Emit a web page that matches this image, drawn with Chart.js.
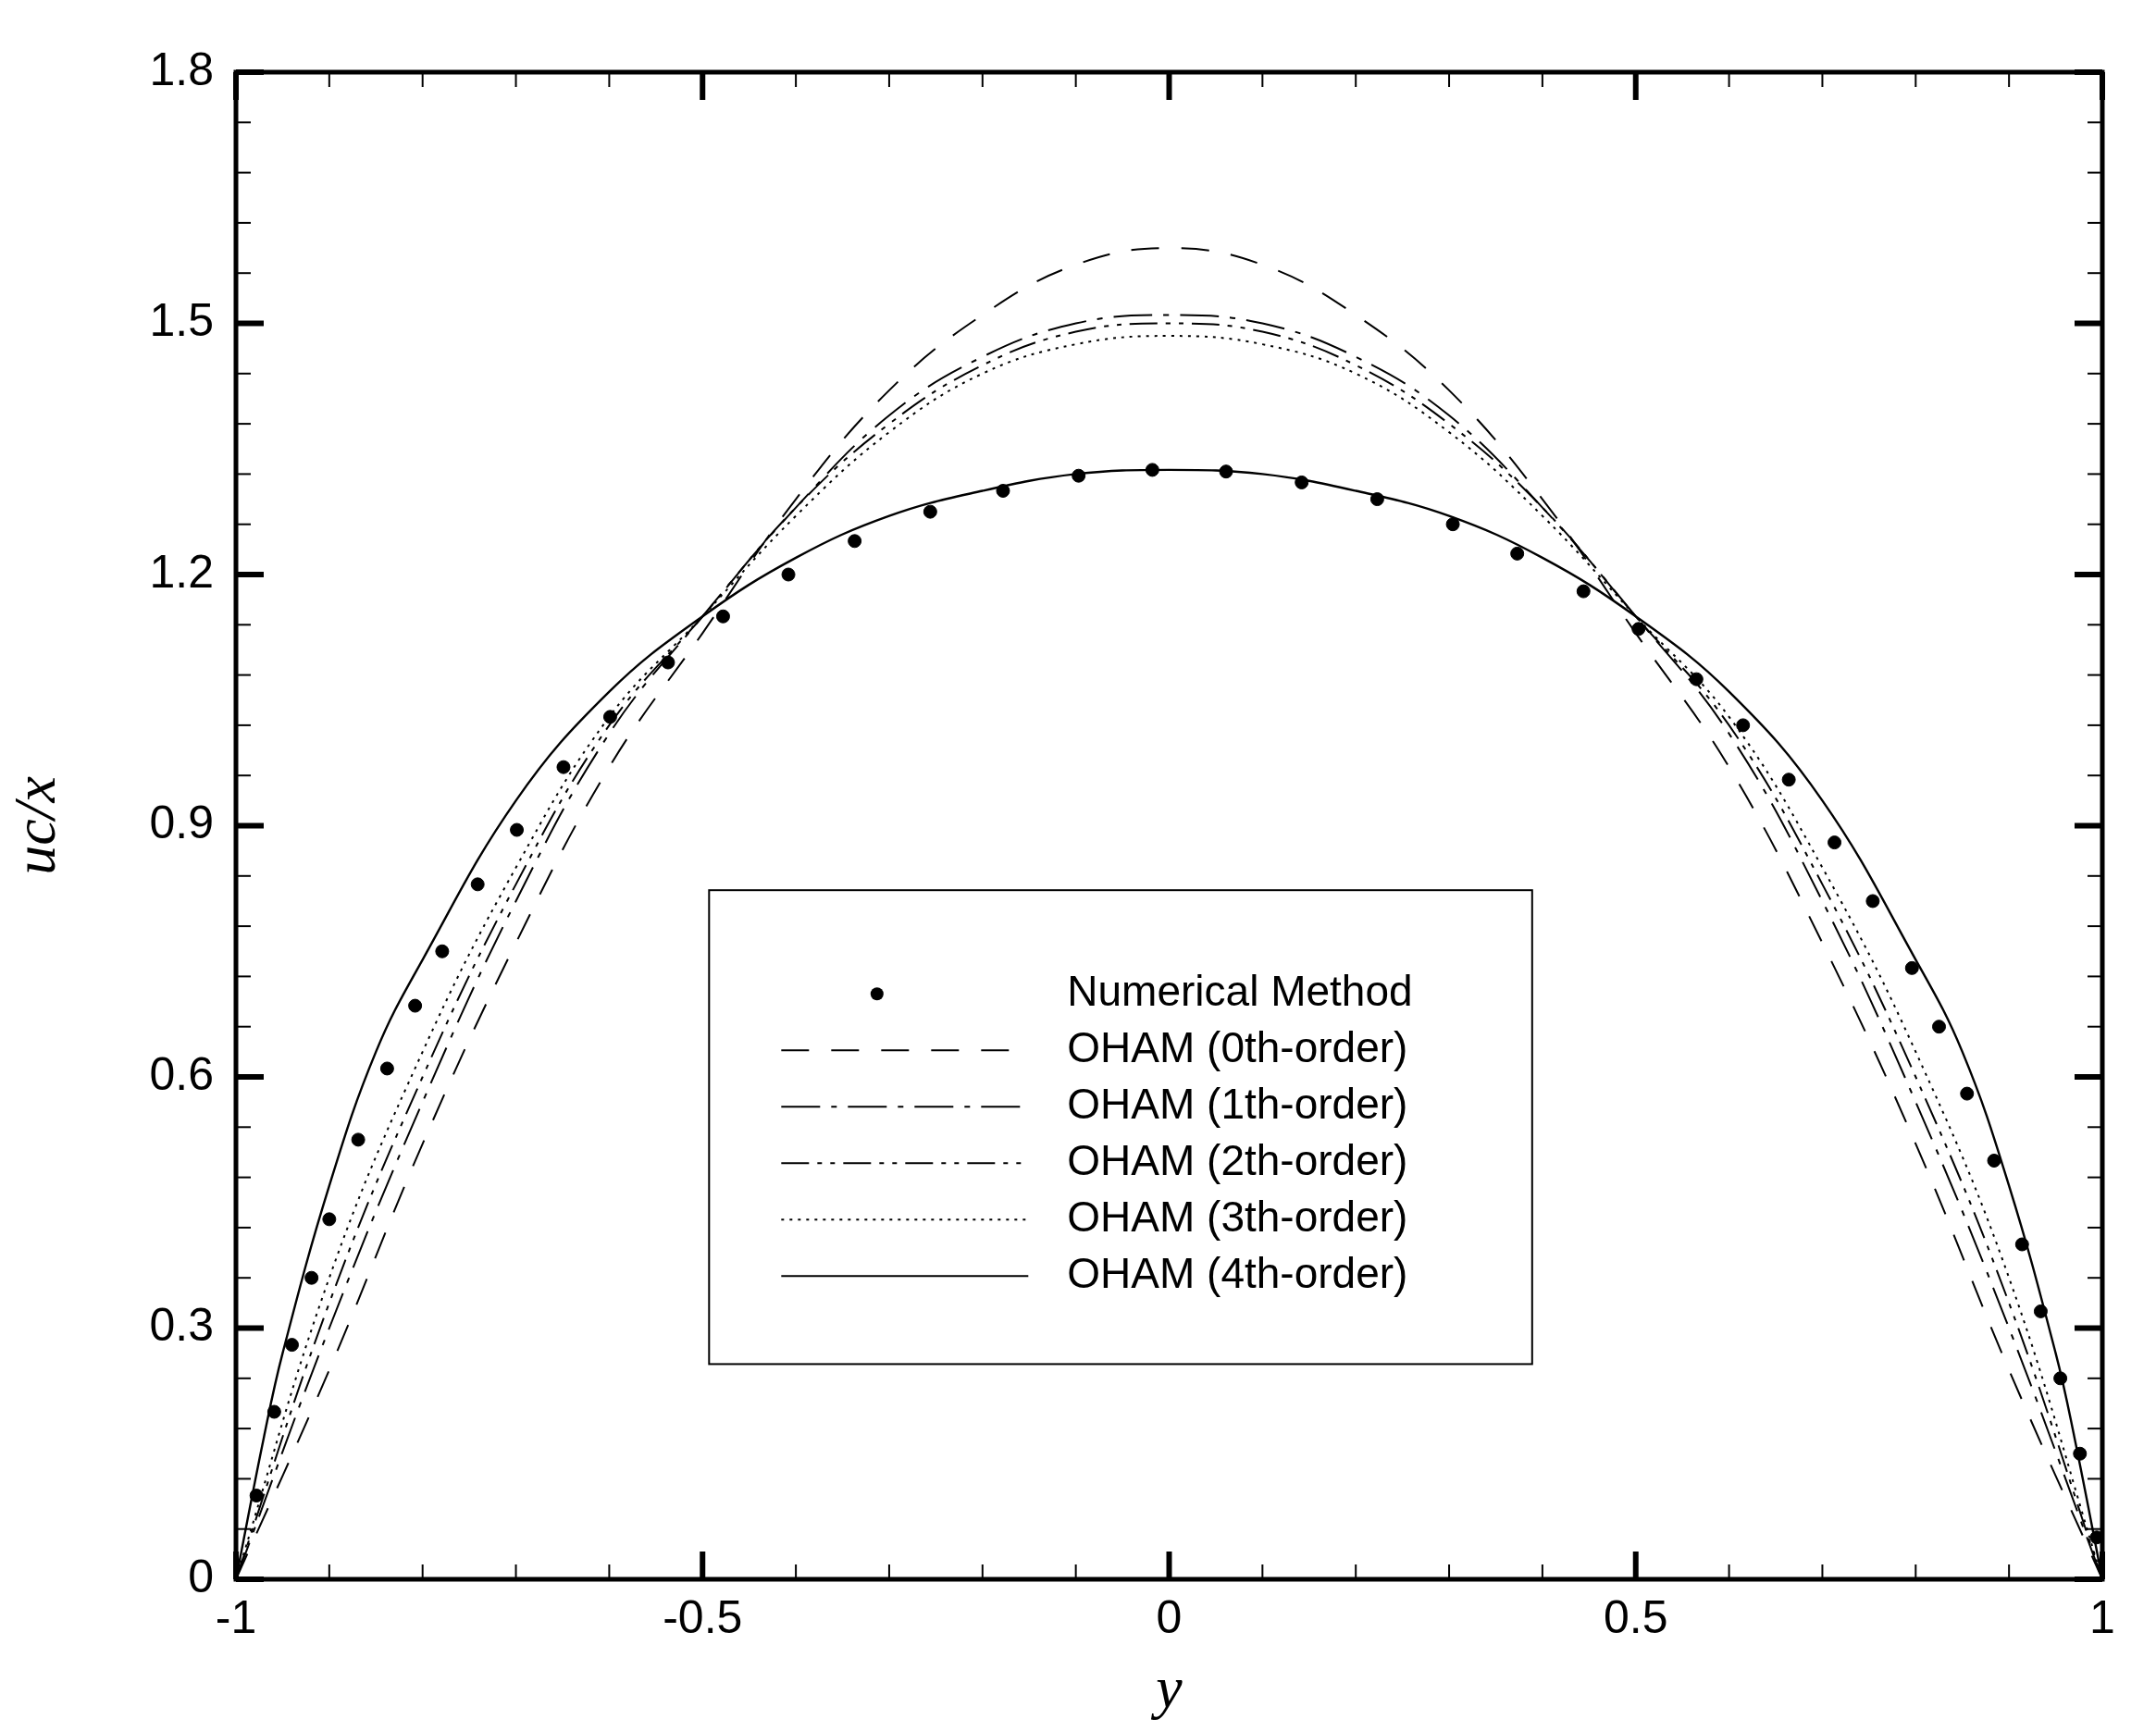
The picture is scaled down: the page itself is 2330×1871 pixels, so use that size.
<!DOCTYPE html>
<html><head><meta charset="utf-8">
<script src="https://cdn.jsdelivr.net/npm/chart.js@4/dist/chart.umd.min.js"></script>
<style>html,body{margin:0;padding:0;background:#fff}#w{width:2330px;height:1871px}</style>
</head><body><div id="w"><canvas id="c"></canvas></div>
<script>
const yGrid = [-1,-0.9,-0.8,-0.7,-0.6,-0.5,-0.4,-0.3,-0.2,-0.1,0,0.1,0.2,0.3,0.4,0.5,0.6,0.7,0.8,0.9,1];
const oham0 = [0,0.25,0.52,0.76,0.97,1.13,1.29,1.42,1.51,1.57,1.59,1.57,1.51,1.42,1.29,1.13,0.97,0.76,0.52,0.25,0];
const oham1 = [0,0.30,0.57,0.81,1.01,1.15,1.28,1.39,1.46,1.50,1.51,1.50,1.46,1.39,1.28,1.15,1.01,0.81,0.57,0.30,0];
const oham2 = [0,0.33,0.60,0.83,1.02,1.15,1.28,1.38,1.45,1.49,1.50,1.49,1.45,1.38,1.28,1.15,1.02,0.83,0.60,0.33,0];
const oham3 = [0,0.36,0.63,0.85,1.03,1.15,1.27,1.37,1.44,1.475,1.485,1.475,1.44,1.37,1.27,1.15,1.03,0.85,0.63,0.36,0];
const y4 = [-1,-0.97,-0.95,-0.9,-0.85,-0.8,-0.7,-0.6,-0.5,-0.4,-0.3,-0.2,-0.1,0,0.1,0.2,0.3,0.4,0.5,0.6,0.7,0.8,0.85,0.9,0.95,0.97,1];
const oham4 = [0,0.17,0.27,0.47,0.63,0.74,0.93,1.06,1.15,1.22,1.27,1.30,1.32,1.325,1.32,1.30,1.27,1.22,1.15,1.06,0.93,0.74,0.63,0.47,0.27,0.17,0];
const numX = [-0.978,-0.959,-0.940,-0.919,-0.900,-0.869,-0.838,-0.808,-0.779,-0.741,-0.699,-0.649,-0.599,-0.537,-0.478,-0.408,-0.337,-0.256,-0.178,-0.097,-0.018,0.061,0.142,0.223,0.304,0.373,0.444,0.503,0.565,0.615,0.664,0.713,0.754,0.796,0.825,0.855,0.884,0.914,0.934,0.955,0.976,0.994];
const numY = [0.10,0.20,0.28,0.36,0.43,0.525,0.61,0.685,0.75,0.83,0.895,0.97,1.03,1.095,1.15,1.20,1.24,1.275,1.30,1.318,1.325,1.323,1.31,1.29,1.26,1.225,1.18,1.135,1.075,1.02,0.955,0.88,0.81,0.73,0.66,0.58,0.50,0.40,0.32,0.24,0.15,0.05];
const xTicks = [-1,-0.5,0,0.5,1];
const yTicks = [0,0.3,0.6,0.9,1.2,1.5,1.8];
const legendLabels = ['Numerical Method','OHAM (0th-order)','OHAM (1th-order)','OHAM (2th-order)','OHAM (3th-order)','OHAM (4th-order)'];

const pts = (xs, ys) => xs.map((x,i)=>({x, y: ys[i]}));
const dashes = [[30,24],[42,12,6,12],[30,9,5,9,5,9],[3,6],[]];
const lineSets = [oham0,oham1,oham2,oham3].map((d,i)=>({data:pts(yGrid,d),showLine:true,borderColor:'#000',borderWidth:2,borderDash:dashes[i],pointRadius:0,tension:0.4,fill:false}));
lineSets.push({data:pts(y4,oham4),showLine:true,borderColor:'#000',borderWidth:2.4,pointRadius:0,tension:0.4,fill:false});
const numSet = {data:pts(numX,numY),showLine:false,pointRadius:7,pointBackgroundColor:'#000',pointBorderColor:'#000'};

const deco = {
  id:'deco',
  afterDraw(ch){
    const c=ch.ctx, xs=ch.scales.x, ys=ch.scales.y, a=ch.chartArea;
    c.save(); c.strokeStyle='#000';
    for(let k=0;k<=20;k++){
      const v=-1+k*0.1, p=xs.getPixelForValue(v), major=k%5===0;
      c.lineWidth=major?6:2; const L=major?30:16;
      c.beginPath(); c.moveTo(p,a.bottom); c.lineTo(p,a.bottom-L); c.stroke();
      c.beginPath(); c.moveTo(p,a.top); c.lineTo(p,a.top+L); c.stroke();
    }
    for(let k=0;k<=30;k++){
      const v=k*0.06, p=ys.getPixelForValue(v), major=k%5===0;
      c.lineWidth=major?6:2; const L=major?30:16;
      c.beginPath(); c.moveTo(a.left,p); c.lineTo(a.left+L,p); c.stroke();
      c.beginPath(); c.moveTo(a.right,p); c.lineTo(a.right-L,p); c.stroke();
    }
    c.lineWidth=5; c.strokeRect(a.left,a.top,a.right-a.left,a.bottom-a.top);
    const bx=xs.getPixelForValue(-0.493), by=ys.getPixelForValue(0.823), bx2=xs.getPixelForValue(0.389), by2=ys.getPixelForValue(0.257);
    c.fillStyle='#fff'; c.fillRect(bx,by,bx2-bx,by2-by);
    c.lineWidth=2; c.strokeRect(bx,by,bx2-bx,by2-by);
    c.font='46px "Liberation Sans", Arial, sans-serif'; c.textBaseline='middle'; c.fillStyle='#000';
    const rowY0=by+112, dy=61, lx1=bx+78, lx2=bx+345, tx=bx+387;
    legendLabels.forEach((t,i)=>{
      const yy=rowY0+i*dy;
      if(i===0){ c.beginPath(); c.arc((lx1+lx2)/2-30,yy,7,0,Math.PI*2); c.fill(); }
      else { c.setLineDash(dashes[i-1]); c.lineWidth=2; c.beginPath(); c.moveTo(lx1,yy); c.lineTo(lx2,yy); c.stroke(); c.setLineDash([]); }
      c.fillText(t,tx,yy);
    });
    c.restore();
  }
};

new Chart(document.getElementById('c'),{
  type:'scatter',
  data:{datasets:[numSet,...lineSets]},
  options:{
    responsive:true,maintainAspectRatio:false,animation:false,
    layout:{padding:{top:78,right:58,left:0,bottom:0}},
    plugins:{legend:{display:false},tooltip:{enabled:false}},
    scales:{
      x:{type:'linear',min:-1,max:1,
        afterFit(s){s.height=164;},
        afterBuildTicks(s){s.ticks=xTicks.map(v=>({value:v}));},
        grid:{display:false},border:{display:false},
        ticks:{color:'#000',font:{family:'"Liberation Sans", Arial',size:50},padding:6,maxRotation:0,callback:v=>String(v)},
        title:{display:true,text:'y',color:'#000',font:{family:'"Liberation Serif", serif',size:64,style:'italic'},padding:{top:-14}}},
      y:{type:'linear',min:0,max:1.8,
        afterFit(s){s.width=255;},
        afterBuildTicks(s){s.ticks=yTicks.map(v=>({value:v}));},
        grid:{display:false},border:{display:false},
        ticks:{color:'#000',font:{family:'"Liberation Sans", Arial',size:50},padding:16,callback:v=>v===0?'0':v.toFixed(1)},
        title:{display:true,text:'uc/x',color:'#000',font:{family:'"Liberation Serif", serif',size:64,style:'italic'},padding:{bottom:10}}}
    }
  },
  plugins:[deco]
});
</script></body></html>
